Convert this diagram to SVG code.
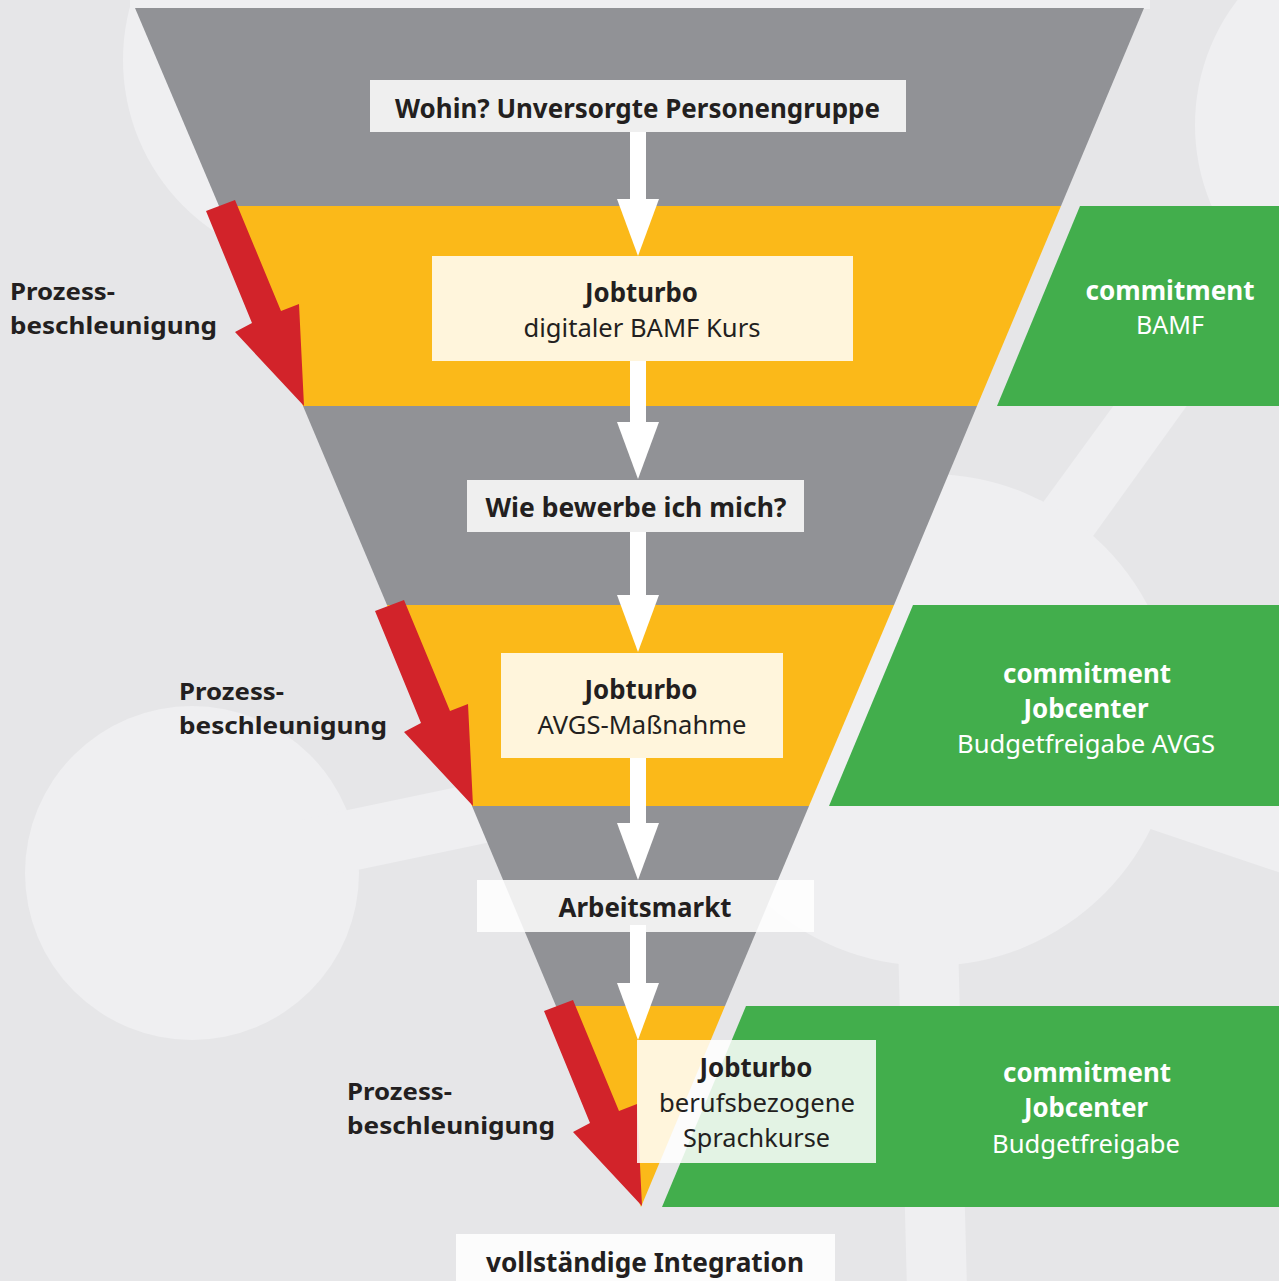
<svg xmlns="http://www.w3.org/2000/svg" xmlns:xlink="http://www.w3.org/1999/xlink" width="1279" height="1281" viewBox="0 0 1279 1281">
  <defs>
    <style>
      .bg { fill: #e6e6e8; }
      .lt { fill: #efeff1; }
      .grey { fill: #919296; }
      .orange { fill: #fbb919; }
      .green { fill: #42ae4c; }
      .red { fill: #d2232a; }
      .box { fill: #ffffff; fill-opacity: 0.85; }
      .conn { stroke: #ffffff; stroke-width: 16; fill: none; }
      text { font-family: "Noto Sans", "Liberation Sans", sans-serif; font-size: 26px; text-anchor: middle; }
      .b { font-weight: bold; }
      .dk { fill: #231f20; }
      .wt { fill: #ffffff; }
      .lbl { font-family: "Noto Sans", "Liberation Sans", sans-serif; font-size: 24px; font-weight: bold; fill: #231f20; text-anchor: start; }
    </style>
    <marker id="head" markerUnits="userSpaceOnUse" markerWidth="42" markerHeight="58" refX="21" refY="0" orient="0" viewBox="0 0 42 58">
      <polygon points="0,0 42,0 21,57" fill="#ffffff"/>
    </marker>
    <path id="redArrow" d="M206,211 L235,200 L281,311 L299,304 L304,406 L235,332 L252,323 Z"/>
  </defs>

  <!-- background -->
  <g id="background">
    <rect class="bg" x="0" y="0" width="1279" height="1281"/>
    <rect class="lt" x="130" y="0" width="1020" height="9"/>
    <circle class="lt" cx="330" cy="60" r="207"/>
    <circle class="lt" cx="1400" cy="125" r="205"/>
    <polygon class="lt" points="1300,150 1371,150 1047,600 1001,560"/>
    <circle class="lt" cx="930" cy="720" r="246"/>
    <polygon class="lt" points="1100,740 1290,803 1290,876 1100,812"/>
    <polygon class="lt" points="898,940 958,940 967,1290 907,1290"/>
    <circle class="lt" cx="192" cy="873" r="167"/>
    <polygon class="lt" points="300,820 700,736 700,798 300,882"/>
  </g>

  <!-- funnel -->
  <g id="funnel">
    <polygon class="grey" points="135,8 1144,8 1061,206 219,206"/>
    <polygon class="orange" points="219,206 1061,206 977,406 303,406"/>
    <polygon class="grey" points="303,406 977,406 894,605 387,605"/>
    <polygon class="orange" points="387,605 894,605 809,806 472,806"/>
    <polygon class="grey" points="472,806 809,806 725,1006 556,1006"/>
    <polygon class="orange" points="556,1006 725,1006 641,1207"/>
  </g>

  <!-- commitment panels -->
  <g id="commit-bamf">
    <polygon class="green" points="1080,206 1279,206 1279,406 997,406"/>
    <text class="b wt" x="1170" y="300" textLength="169" lengthAdjust="spacingAndGlyphs">commitment</text>
    <text class="wt" x="1170" y="334" textLength="68" lengthAdjust="spacingAndGlyphs">BAMF</text>
  </g>
  <g id="commit-jobcenter-avgs">
    <polygon class="green" points="913,605 1279,605 1279,806 829,806"/>
    <text class="b wt" x="1087" y="683" textLength="168" lengthAdjust="spacingAndGlyphs">commitment</text>
    <text class="b wt" x="1086" y="718" textLength="125" lengthAdjust="spacingAndGlyphs">Jobcenter</text>
    <text class="wt" x="1086" y="753" textLength="258" lengthAdjust="spacingAndGlyphs">Budgetfreigabe AVGS</text>
  </g>
  <g id="commit-jobcenter">
    <polygon class="green" points="746,1006 1279,1006 1279,1207 662,1207"/>
    <text class="b wt" x="1087" y="1082" textLength="168" lengthAdjust="spacingAndGlyphs">commitment</text>
    <text class="b wt" x="1086" y="1117" textLength="124" lengthAdjust="spacingAndGlyphs">Jobcenter</text>
    <text class="wt" x="1086" y="1153" textLength="188" lengthAdjust="spacingAndGlyphs">Budgetfreigabe</text>
  </g>

  <!-- acceleration arrows and labels -->
  <g id="accel-1">
    <use xlink:href="#redArrow" href="#redArrow" class="red"/>
    <text class="lbl" x="10" y="300" textLength="105" lengthAdjust="spacingAndGlyphs">Prozess-</text>
    <text class="lbl" x="10" y="334" textLength="207" lengthAdjust="spacingAndGlyphs">beschleunigung</text>
  </g>
  <g id="accel-2">
    <use xlink:href="#redArrow" href="#redArrow" class="red" x="169" y="400"/>
    <text class="lbl" x="179" y="700" textLength="105" lengthAdjust="spacingAndGlyphs">Prozess-</text>
    <text class="lbl" x="179" y="734" textLength="208" lengthAdjust="spacingAndGlyphs">beschleunigung</text>
  </g>
  <g id="accel-3">
    <use xlink:href="#redArrow" href="#redArrow" class="red" x="338" y="800"/>
    <text class="lbl" x="347" y="1100" textLength="105" lengthAdjust="spacingAndGlyphs">Prozess-</text>
    <text class="lbl" x="347" y="1134" textLength="208" lengthAdjust="spacingAndGlyphs">beschleunigung</text>
  </g>

  <!-- connectors -->
  <g id="connectors">
    <line class="conn" x1="638" y1="132" x2="638" y2="199" marker-end="url(#head)"/>
    <line class="conn" x1="638" y1="361" x2="638" y2="422" marker-end="url(#head)"/>
    <line class="conn" x1="638" y1="532" x2="638" y2="595" marker-end="url(#head)"/>
    <line class="conn" x1="638" y1="758" x2="638" y2="823" marker-end="url(#head)"/>
    <line class="conn" x1="638" y1="925" x2="638" y2="983" marker-end="url(#head)"/>
  </g>

  <!-- nodes -->
  <g id="node-wohin">
    <rect class="box" x="370" y="80" width="536" height="52"/>
    <text class="b dk" x="637.5" y="118" textLength="485" lengthAdjust="spacingAndGlyphs">Wohin? Unversorgte Personengruppe</text>
  </g>
  <g id="node-bamf-kurs">
    <rect class="box" x="432" y="256" width="421" height="105"/>
    <text class="b dk" x="641.5" y="302" textLength="113" lengthAdjust="spacingAndGlyphs">Jobturbo</text>
    <text class="dk" x="642" y="337" textLength="237" lengthAdjust="spacingAndGlyphs">digitaler BAMF Kurs</text>
  </g>
  <g id="node-bewerbe">
    <rect class="box" x="467" y="480" width="337" height="52"/>
    <text class="b dk" x="636" y="517" textLength="301" lengthAdjust="spacingAndGlyphs">Wie bewerbe ich mich?</text>
  </g>
  <g id="node-avgs">
    <rect class="box" x="501" y="653" width="282" height="105"/>
    <text class="b dk" x="641" y="699" textLength="113" lengthAdjust="spacingAndGlyphs">Jobturbo</text>
    <text class="dk" x="642" y="734" textLength="209" lengthAdjust="spacingAndGlyphs">AVGS-Maßnahme</text>
  </g>
  <g id="node-arbeitsmarkt">
    <rect class="box" x="477" y="880" width="337" height="52"/>
    <text class="b dk" x="645" y="917" textLength="173" lengthAdjust="spacingAndGlyphs">Arbeitsmarkt</text>
  </g>
  <g id="node-sprachkurse">
    <rect class="box" x="637" y="1040" width="239" height="123"/>
    <text class="b dk" x="756" y="1077" textLength="113" lengthAdjust="spacingAndGlyphs">Jobturbo</text>
    <text class="dk" x="757" y="1112" textLength="196" lengthAdjust="spacingAndGlyphs">berufsbezogene</text>
    <text class="dk" x="756.5" y="1147" textLength="147" lengthAdjust="spacingAndGlyphs">Sprachkurse</text>
  </g>
  <g id="node-integration">
    <rect class="box" x="456" y="1234" width="379" height="50"/>
    <text class="b dk" x="645" y="1272" textLength="318" lengthAdjust="spacingAndGlyphs">vollständige Integration</text>
  </g>
</svg>
